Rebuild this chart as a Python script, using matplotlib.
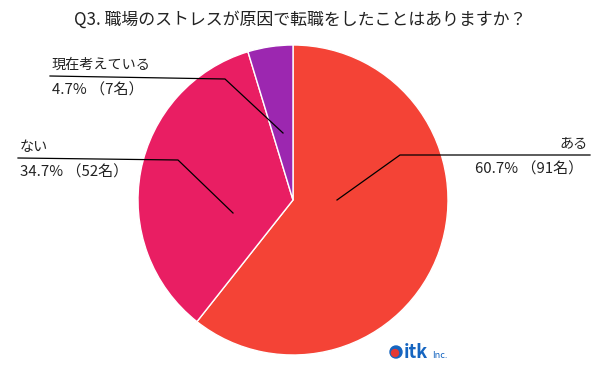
import matplotlib
matplotlib.use("Agg")
import matplotlib.pyplot as plt
from matplotlib.patches import Circle

plt.rcParams['font.family'] = ['Noto Sans CJK JP', 'DejaVu Sans']

title = "Q3. 職場のストレスが原因で転職をしたことはありますか？"
labels = ["ある", "ない", "現在考えている"]
values = [60.7, 34.7, 4.7]
counts = [91, 52, 7]
colors = ["#F44336", "#E91E63", "#9C27B0"]

W, H = 600, 370
fig = plt.figure(figsize=(6, 3.7), dpi=100)
ax = fig.add_axes([0, 0, 1, 1])

cx, cy, r = 293, H - 200, 155
ax.pie(values, colors=colors, startangle=90, counterclock=False,
       center=(cx, cy), radius=r, frame=True,
       wedgeprops=dict(edgecolor='white', linewidth=1))
ax.set_xlim(0, W)
ax.set_ylim(0, H)
ax.set_aspect('equal')
ax.axis('off')

ax.text(300, H - 20, title, ha='center', va='center', fontsize=12.2, color='#222222')

# leader lines (pixel coords, top-origin) and label anchors
leaders = [
    [(337, 200), (400, 155), (590, 155)],
    [(233, 213), (178, 160), (18, 158)],
    [(283, 133), (225, 79), (50, 76)],
]
anchors = [(588, 'right'), (20, 'left'), (52, 'left')]
for lab, v, n, pts, (tx, ha) in zip(labels, values, counts, leaders, anchors):
    xs = [p[0] for p in pts]
    ys = [H - p[1] for p in pts]
    ax.plot(xs, ys, color='black', lw=0.9)
    ly = pts[-1][1]
    ax.text(tx, H - (ly - 11), lab, ha=ha, va='center', fontsize=10.2, color='#222222')
    ax.text(tx if ha == 'left' else tx - 5, H - (ly + 14), f"{v}% （{n}名）",
            ha=ha, va='center', fontsize=10.8, color='#222222')

# logo
ax.add_patch(Circle((396, H - 352), 6, color='#1565C0'))
ax.add_patch(Circle((395, H - 353), 3.5, color='#E53935'))
ax.text(404, H - 352, "itk", ha='left', va='center', fontsize=13,
        fontweight='bold', color='#1565C0')
ax.text(432, H - 355, "Inc.", ha='left', va='center', fontsize=6.5, color='#1565C0')

fig.savefig("out.png", dpi=100)
